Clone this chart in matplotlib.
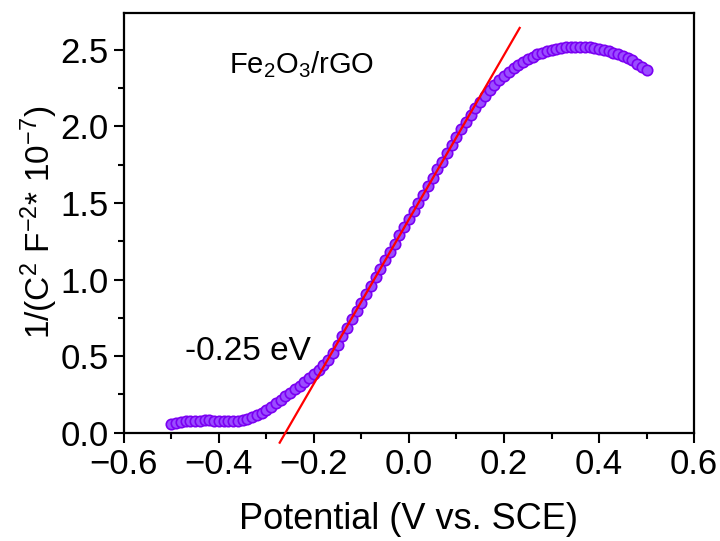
import numpy as np
import matplotlib.pyplot as plt
from matplotlib.ticker import MultipleLocator

plt.rcParams['font.family'] = ['Liberation Sans', 'DejaVu Sans']
plt.rcParams['mathtext.fontset'] = 'custom'
plt.rcParams['mathtext.rm'] = 'Liberation Sans'
plt.rcParams['mathtext.it'] = 'Liberation Sans:italic'

# Mott-Schottky data, Fe2O3/rGO (potential in V vs SCE, 1/C^2 in 1e-7 F^-2)
potential = np.round(np.arange(-0.50, 0.501, 0.01), 2)
inv_c2 = [
    0.055, 0.065, 0.070, 0.074, 0.077, 0.079, 0.080, 0.081, 0.081, 0.080,
    0.079, 0.078, 0.077, 0.077, 0.079, 0.083, 0.090, 0.100, 0.114, 0.130,
    0.150, 0.170, 0.192, 0.214, 0.237, 0.260, 0.283, 0.306, 0.330, 0.355,
    0.382, 0.410, 0.440, 0.475, 0.520, 0.575, 0.630, 0.685, 0.740, 0.795,
    0.850, 0.905, 0.960, 1.015, 1.070, 1.125, 1.180, 1.235, 1.290, 1.340,
    1.395, 1.450, 1.500, 1.555, 1.610, 1.665, 1.720, 1.770, 1.825, 1.880,
    1.930, 1.980, 2.030, 2.075, 2.120, 2.160, 2.200, 2.235, 2.270, 2.300,
    2.330, 2.355, 2.380, 2.400, 2.420, 2.440, 2.455, 2.470, 2.480, 2.490,
    2.500, 2.507, 2.513, 2.517, 2.520, 2.520, 2.520, 2.518, 2.515, 2.510,
    2.505, 2.498, 2.490, 2.480, 2.470, 2.460, 2.445, 2.430, 2.410, 2.390,
    2.370,
]

# linear fit (flat band potential)
fit_slope = 5.36
fit_x0 = -0.26
fit_range = [-0.272, 0.233]

fig = plt.figure(figsize=(7.2, 5.41), dpi=100)
ax = fig.add_axes([0.172, 0.2, 0.792, 0.776])

ax.plot(potential, inv_c2, 'o', ms=7.5, mfc='#9a4dff', mec='#7a00f2', mew=1.2, zorder=2)
fx = np.array(fit_range)
ax.plot(fx, fit_slope * (fx - fit_x0), color='#ff0000', lw=1.6, zorder=3, clip_on=False)

ax.set_xlim(-0.6, 0.6)
ax.set_ylim(0, 2.74)
ax.xaxis.set_major_locator(MultipleLocator(0.2))
ax.xaxis.set_minor_locator(MultipleLocator(0.1))
ax.yaxis.set_major_locator(MultipleLocator(0.5))
ax.yaxis.set_minor_locator(MultipleLocator(0.25))
ax.tick_params(which='both', direction='out', width=1.5, labelsize=25, top=False, right=False)
ax.tick_params(which='major', length=7, pad=4)
ax.tick_params(which='minor', length=4)
for s in ax.spines.values():
    s.set_linewidth(1.6)

ax.set_xlabel('Potential (V vs. SCE)', fontsize=26, labelpad=15)
ax.set_ylabel('1/(C$^2$ F$^{-2}$* 10$^{-7}$)', fontsize=24, labelpad=0)

ax.text(-0.378, 2.40, 'Fe$_2$O$_3$/rGO', fontsize=21, va='center', ha='left')
ax.text(-0.472, 0.53, '-0.25 eV', fontsize=24, va='center', ha='left')

fig.savefig('out.png', dpi=100)
